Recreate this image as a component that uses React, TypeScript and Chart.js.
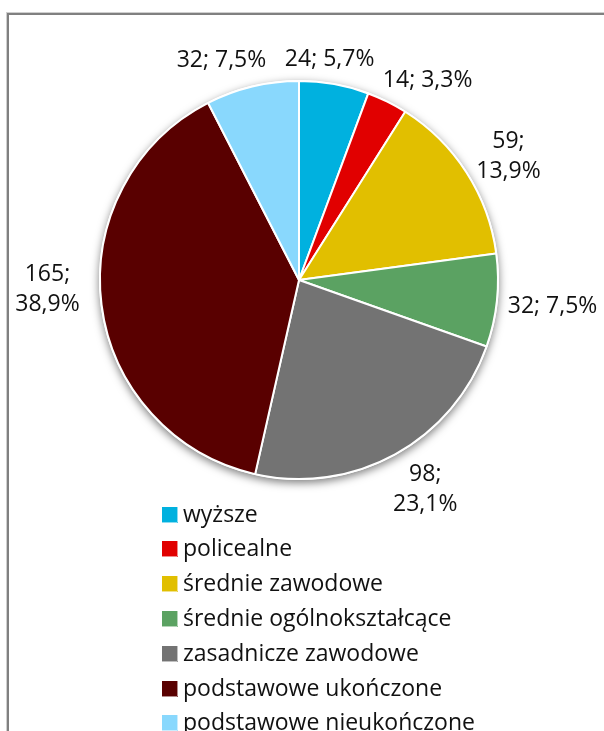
import React, { useEffect, useRef } from 'react';
import { Chart, registerables } from 'chart.js';

Chart.register(...registerables);

// ---- data ----
const categories = [
  'wyższe',
  'policealne',
  'średnie zawodowe',
  'średnie ogólnokształcące',
  'zasadnicze zawodowe',
  'podstawowe ukończone',
  'podstawowe nieukończone',
];
const counts = [24, 14, 59, 32, 98, 165, 32];
const sliceColors = ['#00B1DF', '#E10000', '#E1BF00', '#5BA262', '#737373', '#590000', '#89D8FD'];

// ---- style / placement (not data) ----
const LABEL_FONT = '23px "Open Sans"';
const LEGEND_FONT = '23px "Open Sans"';
const TEXT_COLOR = '#111111';
const labelStyle = {
  gap: 10,
  lineHeight: 30,
  capHeight: 16.4,
  boxLine: 26,
  wrap: [false, false, true, false, true, true, false],
  // manual drags relative to the automatic outside position (like Excel labels moved by hand)
  nudge: [[-10, 4], [22, 14], [-2, 10], [0, -2], [6, -10], [-9, -23], [-23, 4]],
};

const fmtPct = (v: number, total: number) => (v / total * 100).toFixed(1).replace('.', ',') + '%';

const framePlugin = {
  id: 'frame',
  beforeDraw(chart: any) {
    const ctx = chart.ctx;
    ctx.save();
    ctx.fillStyle = '#ffffff';
    ctx.fillRect(0, 0, chart.width, chart.height);
    ctx.fillStyle = '#cfcfcf';
    ctx.fillRect(6, 12, chart.width - 6, 1);
    ctx.fillRect(6, 12, 1, chart.height - 12);
    ctx.fillStyle = '#808080';
    ctx.fillRect(7, 13, chart.width - 7, 2);
    ctx.fillRect(7, 13, 2, chart.height - 13);
    ctx.restore();
  },
};

const shadowPlugin = {
  id: 'pieShadow',
  beforeDatasetsDraw(chart: any) {
    const meta = chart.getDatasetMeta(0);
    const arc = meta.data[0];
    if (!arc) return;
    const { x, y, outerRadius } = arc.getProps(['x', 'y', 'outerRadius'], true);
    const ctx = chart.ctx;
    ctx.save();
    ctx.shadowColor = 'rgba(0,0,0,0.5)';
    ctx.shadowBlur = 9;
    ctx.shadowOffsetY = 3;
    ctx.beginPath();
    ctx.arc(x, y, outerRadius + 1, 0, Math.PI * 2);
    ctx.fillStyle = '#ffffff';
    ctx.fill();
    ctx.restore();
  },
};

const labelPlugin = {
  id: 'outsideLabels',
  afterDatasetsDraw(chart: any) {
    const ctx = chart.ctx;
    const meta = chart.getDatasetMeta(0);
    const data = chart.data.datasets[0].data as number[];
    const total = data.reduce((a, b) => a + b, 0);
    ctx.save();
    ctx.font = LABEL_FONT;
    ctx.fillStyle = TEXT_COLOR;
    ctx.textAlign = 'center';
    ctx.textBaseline = 'alphabetic';
    meta.data.forEach((arc: any, i: number) => {
      const { x, y, outerRadius, startAngle, endAngle } = arc.getProps(
        ['x', 'y', 'outerRadius', 'startAngle', 'endAngle'], true);
      const mid = (startAngle + endAngle) / 2;
      const ux = Math.cos(mid);
      const uy = Math.sin(mid);
      const v = data[i];
      const lines = labelStyle.wrap[i]
        ? [`${v};`, fmtPct(v, total)]
        : [`${v}; ${fmtPct(v, total)}`];
      const w = Math.max(...lines.map((l) => ctx.measureText(l).width));
      const h = (lines.length - 1) * labelStyle.lineHeight + labelStyle.boxLine;
      const support = Math.abs(ux) * w / 2 + Math.abs(uy) * h / 2;
      const d = outerRadius + labelStyle.gap + support;
      const cx = x + ux * d + labelStyle.nudge[i][0];
      const cy = y + uy * d + labelStyle.nudge[i][1];
      lines.forEach((l, k) => {
        const ly = cy - ((lines.length - 1) * labelStyle.lineHeight) / 2 + k * labelStyle.lineHeight;
        ctx.fillText(l, cx, ly + labelStyle.capHeight / 2);
      });
    });
    ctx.restore();
  },
};

const legendPlugin = {
  id: 'listLegend',
  afterDraw(chart: any) {
    const ctx = chart.ctx;
    const area = chart.chartArea;
    const labels = chart.data.labels as string[];
    const colors = chart.data.datasets[0].backgroundColor as string[];
    const firstY = area.bottom + 34;
    const step = 34.8;
    const sx = 162;
    const size = 15;
    ctx.save();
    ctx.font = LEGEND_FONT;
    ctx.textBaseline = 'alphabetic';
    ctx.textAlign = 'left';
    labels.forEach((lab, i) => {
      const cy = firstY + i * step;
      const top = Math.round(cy - size / 2);
      ctx.fillStyle = colors[i];
      ctx.fillRect(sx, top, size, size);
      ctx.globalAlpha = 0.45;
      ctx.fillRect(sx, top + size, size + 1, 1);
      ctx.fillRect(sx + size, top, 1, size + 1);
      ctx.globalAlpha = 1;
      ctx.fillStyle = TEXT_COLOR;
      ctx.fillText(lab, sx + size + 6, cy + 7.5);
    });
    ctx.restore();
  },
};

export default function App() {
  const ref = useRef<HTMLCanvasElement | null>(null);
  useEffect(() => {
    if (!ref.current) return;
    const chart = new Chart(ref.current, {
      type: 'pie',
      data: {
        labels: categories,
        datasets: [
          {
            data: counts,
            backgroundColor: sliceColors,
            borderColor: '#ffffff',
            borderWidth: 2,
          },
        ],
      },
      options: {
        responsive: false,
        animation: false,
        rotation: 0,
        layout: { padding: { left: 99, right: 105, top: 80, bottom: 251 } },
        plugins: {
          legend: { display: false },
          tooltip: { enabled: false },
        },
      },
      plugins: [framePlugin, shadowPlugin, labelPlugin, legendPlugin],
    });
    return () => chart.destroy();
  }, []);
  return (
    <div style={{ position: 'absolute', left: 0, top: 0, width: 604, height: 731, background: '#fff' }}>
      <canvas ref={ref} width={604} height={731} style={{ display: 'block', width: 604, height: 731 }} />
    </div>
  );
}
